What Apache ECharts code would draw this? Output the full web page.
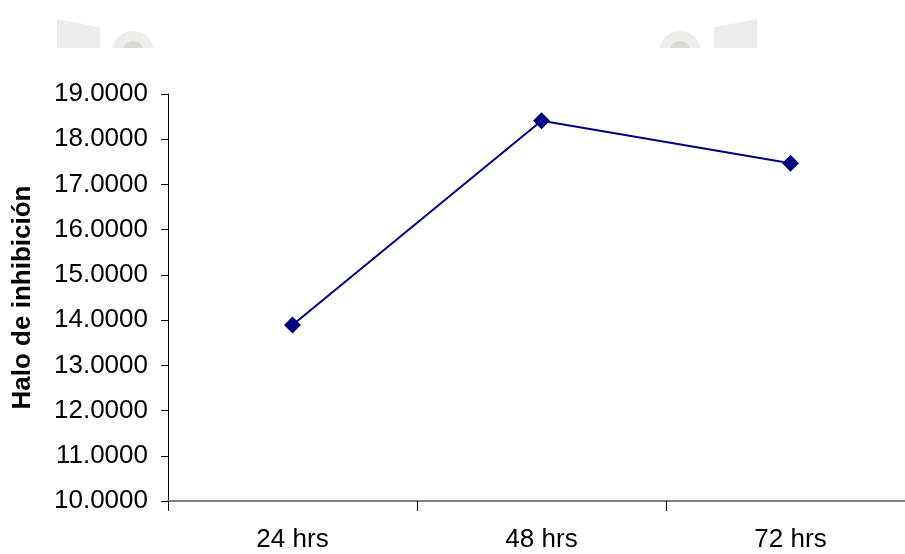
<!DOCTYPE html>
<html>
<head>
<meta charset="utf-8">
<style>
  html, body { margin: 0; padding: 0; background: #ffffff; overflow: hidden; }
  #chart { width: 905px; height: 554px; }
</style>
<script src="https://cdn.jsdelivr.net/npm/echarts@6/dist/echarts.min.js"></script>
</head>
<body>
<div id="chart"></div>
<script>
// Incubation times and measured inhibition halo
const categories = ['24 hrs', '48 hrs', '72 hrs'];
const haloValues = [13.89, 18.41, 17.47];
const yAxisTitle = 'Halo de inhibición';

const chart = echarts.init(document.getElementById('chart'), null, { renderer: 'canvas' });

// faint decorative shapes along the top edge
const decoFill = '#eceeec';
const decoDark = '#d9dcd4';
const decorations = [
  { type: 'polygon', shape: { points: [[57, 19], [100, 27], [100, 48], [57, 48]] }, style: { fill: decoFill } },
  { type: 'sector', shape: { cx: 133, cy: 52, r0: 11, r: 21, startAngle: Math.PI, endAngle: 2 * Math.PI }, style: { fill: decoFill } },
  { type: 'sector', shape: { cx: 133, cy: 52, r0: 0, r: 11, startAngle: Math.PI, endAngle: 2 * Math.PI }, style: { fill: decoDark } },
  { type: 'polygon', shape: { points: [[757, 19], [714, 27], [714, 48], [757, 48]] }, style: { fill: decoFill } },
  { type: 'sector', shape: { cx: 680, cy: 52, r0: 11, r: 21, startAngle: Math.PI, endAngle: 2 * Math.PI }, style: { fill: decoFill } },
  { type: 'sector', shape: { cx: 680, cy: 52, r0: 0, r: 11, startAngle: Math.PI, endAngle: 2 * Math.PI }, style: { fill: decoDark } },
  { type: 'rect', shape: { x: 0, y: 48, width: 905, height: 10 }, style: { fill: '#ffffff' } }
];

const option = {
  backgroundColor: '#ffffff',
  animation: false,
  graphic: decorations,
  grid: { left: 168, top: 94, width: 747, bottom: 53, containLabel: false, outerBoundsMode: 'none' },
  xAxis: {
    type: 'category',
    data: categories,
    boundaryGap: true,
    axisLine: { show: true, lineStyle: { color: '#808080', width: 2 } },
    axisTick: { show: true, alignWithLabel: false, length: 10, lineStyle: { color: '#000000', width: 1 } },
    axisLabel: { color: '#000000', fontFamily: 'Liberation Sans, Arial, sans-serif', fontSize: 26, margin: 26 },
    splitLine: { show: false }
  },
  yAxis: {
    type: 'value',
    min: 10,
    max: 19,
    interval: 1,
    name: yAxisTitle,
    nameLocation: 'middle',
    nameRotate: 90,
    nameGap: 132,
    nameTextStyle: { color: '#000000', fontFamily: 'Liberation Sans, Arial, sans-serif', fontSize: 26, fontWeight: 'bold' },
    axisLine: { show: true, lineStyle: { color: '#000000', width: 1 } },
    axisTick: { show: true, length: 7, lineStyle: { color: '#000000', width: 1 } },
    axisLabel: {
      color: '#000000',
      fontFamily: 'Liberation Sans, Arial, sans-serif',
      fontSize: 26,
      margin: 20,
      formatter: v => v.toFixed(4)
    },
    splitLine: { show: false }
  },
  series: [{
    type: 'line',
    data: haloValues,
    symbol: 'diamond',
    symbolSize: 17,
    lineStyle: { color: '#000080', width: 2 },
    itemStyle: { color: '#000080' },
    z: 3
  }]
};

chart.setOption(option);
</script>
</body>
</html>
